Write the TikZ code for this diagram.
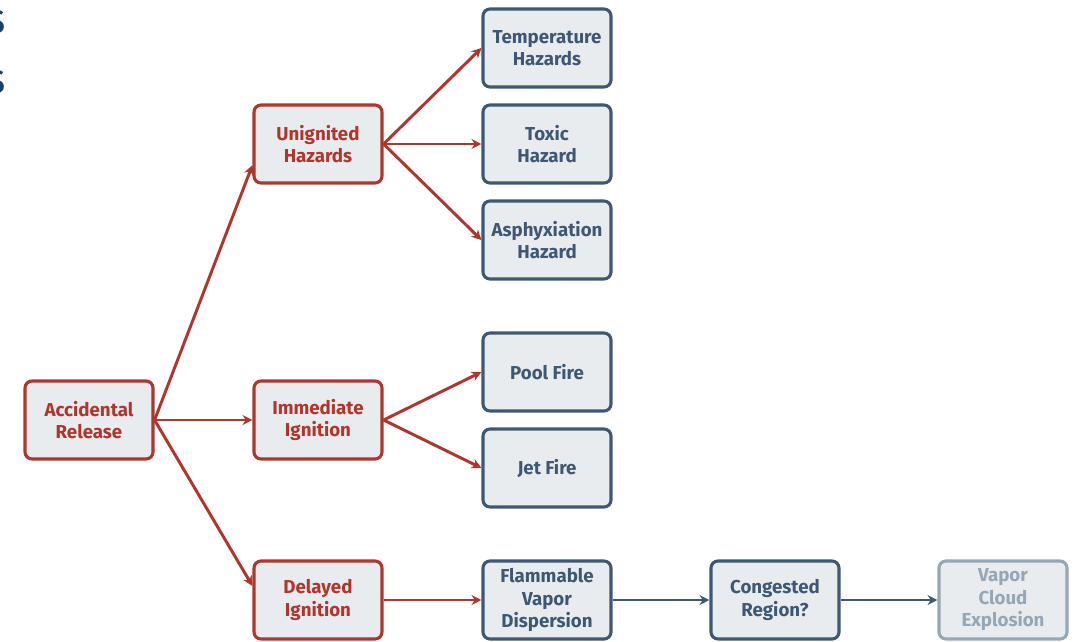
\documentclass[tikz,border=0pt]{standalone}
\usepackage{fontspec}
\setmainfont{Fira Sans}
\usetikzlibrary{arrows.meta}
\definecolor{hazred}{HTML}{B0352C}
\definecolor{hazblue}{HTML}{3E5874}
\definecolor{hazfill}{HTML}{E9ECEE}
\definecolor{hazpale}{HTML}{95A6B5}
\definecolor{titleblue}{HTML}{1C3F6D}
\begin{document}
\begin{tikzpicture}[x=0.025cm,y=-0.025cm]
        \useasboundingbox (0,0) rectangle (1077,641);
        \tikzstyle{every node}=[rounded corners=5pt, line width=2.2pt, fill=hazfill, minimum width=3.2cm, minimum height=1.95cm, align=center, inner sep=1pt, font=\bfseries\fontsize{13.3}{16}\selectfont]
        \tikzstyle{redbox}=[draw=hazred, text=hazred]
        \tikzstyle{bluebox}=[draw=hazblue, text=hazblue]
        \tikzstyle{palebox}=[draw=hazpale, text=hazpale]
        \tikzstyle{redline}=[draw=hazred, line width=2.1pt, -{Stealth[length=7pt,width=7pt]}]
        \tikzstyle{blueline}=[draw=hazblue, line width=2.1pt, -{Stealth[length=7pt,width=7pt]}]
        \tikzstyle{cutoff}=[fill=none, draw=none, minimum width=0pt, minimum height=0pt, text=titleblue, font=\fontsize{31}{31}\selectfont]
        % cut-off title letters
        \node[cutoff] (title1) at (-4,22) {s};
        \node[cutoff] (title2) at (-4,82) {s};
        % first and second level
        \node[redbox] (release) at (89,420) {Accidental\\Release};
        \node[redbox] (unignited) at (318,144) {Unignited\\Hazards};
        \node[redbox] (immediate) at (318,420) {Immediate\\Ignition};
        \node[redbox] (delayed) at (318,600) {Delayed\\Ignition};
        % outcomes
        \node[bluebox] (temperature) at (547,48) {Temperature\\Hazards};
        \node[bluebox] (toxic) at (547,144) {Toxic\\Hazard};
        \node[bluebox] (asphyx) at (547,240) {Asphyxiation\\Hazard};
        \node[bluebox] (pool) at (547,372) {Pool Fire};
        \node[bluebox] (jet) at (547,468) {Jet Fire};
        \node[bluebox] (dispersion) at (547,600) {Flammable\\Vapor\\Dispersion};
        \node[bluebox] (congested) at (775,600) {Congested\\Region?};
        \node[palebox] (vce) at (1003,600) {Vapor\\Cloud\\Explosion};
        % connectors
        \draw[redline] (release.east) -- ([yshift=-15pt]unignited.west);
        \draw[redline] (release.east) -- (immediate.west);
        \draw[redline] (release.east) -- ([yshift=10pt]delayed.west);
        \draw[redline] (unignited.east) -- (temperature.west);
        \draw[redline] (unignited.east) -- (toxic.west);
        \draw[redline] (unignited.east) -- (asphyx.west);
        \draw[redline] (immediate.east) -- (pool.west);
        \draw[redline] (immediate.east) -- (jet.west);
        \draw[redline] (delayed.east) -- (dispersion.west);
        \draw[blueline] (dispersion.east) -- (congested.west);
        \draw[blueline] (congested.east) -- (vce.west);
    \end{tikzpicture}
\end{document}
